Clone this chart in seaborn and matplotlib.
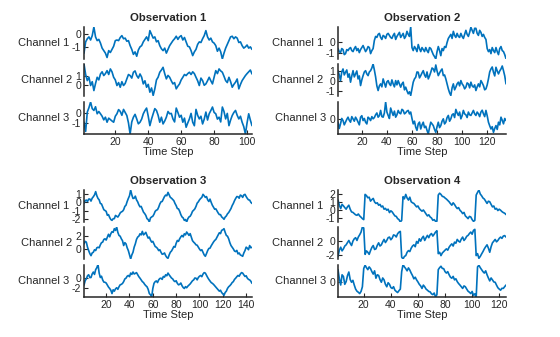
import numpy as np
import pandas as pd
import matplotlib
matplotlib.use("Agg")
import matplotlib.pyplot as plt
import seaborn as sns

# Sensor readings, one value per time step (steps 1, 2, 3, ...)
obs1_ch1 = [-1.5, -0.6, -0.35, -0.2, -0.45, -0.1, 0.59, -0.2, -0.5, -0.4,
            -0.7, -1.1, -1.3, -1.5, -1.85, -1.3, -1.45, -1.2, -0.95, -0.5,
            -0.45, -0.5, -0.25, -0.1, -0.35, -0.3, -0.55, -0.5, -0.9, -1.2,
            -1.6, -1.4, -1.75, -1.25, -1.0, -0.9, -0.6, -0.4, -0.2, -0.5,
            0.3, 0.0, -0.3, -0.2, -0.6, -0.5, -0.9, -1.15, -1.3, -1.1,
            -1.5, -1.2, -0.9, -0.7, -0.5, -0.35, -0.15, -0.4, -0.2, -0.1,
            -0.45, -0.25, -0.6, -0.95, -1.0, -1.3, -1.7, -1.4, -1.2, -0.8,
            -0.6, -0.65, -0.35, -0.1, 0.3, -0.2, -0.45, -0.3, -0.6, -0.7,
            -0.9, -1.35, -1.1, -1.4, -1.97, -1.5, -1.1, -0.8, -0.5, -0.2,
            -0.15, -0.35, -0.2, -0.3, -0.65, -0.6, -0.9, -1.1, -1.0, -0.85,
            -1.1, -1.0, -1.2]
obs1_ch2 = [2.37, 1.2, 0.52, 0.9, -0.03, 0.4, -0.59, 0.2, 0.89, 0.6,
            1.26, 1.5, 1.08, 1.3, 1.63, 1.2, 1.82, 1.5, 0.89, 0.6,
            -0.03, 0.3, -0.22, 0.4, -0.03, 0.2, 0.71, 1.2, 1.08, 0.8,
            1.45, 1.6, 1.08, 0.8, 1.26, 0.9, 0.15, 0.5, -0.22, 0.1,
            -0.77, -0.3, -1.14, -0.4, 0.6, 0.9, 1.45, 1.7, 2.0, 1.3,
            0.71, 1.1, 0.89, 0.5, 0.15, 0.3, -0.4, -0.1, 0.15, 0.6,
            0.89, 1.2, 1.08, 1.3, 1.45, 1.2, 1.5, 1.3, 0.89, 0.5,
            -0.03, 0.8, 0.52, 0.0, 0.15, 0.5, 0.89, 0.5, 0.15, 0.9,
            1.63, 1.3, 1.82, 1.6, 1.45, 1.0, 0.52, 0.3, 0.89, 0.4,
            -0.22, 0.1, 0.34, 0.7, -0.4, 0.1, 0.52, 0.8, 1.08, 1.3,
            1.5, 1.7, 1.26]
obs1_ch3 = [-0.93, -1.9, 0.14, 0.6, 1.2, 0.5, 0.31, 0.7, -0.04, 0.2,
            -0.04, -0.3, -0.68, -0.4, -0.93, -0.5, -0.65, -0.8, -0.93, -0.3,
            -0.04, 0.4, 0.21, -0.2, 0.42, 0.1, -0.22, -1.0, -2.17, -0.9,
            -0.4, -0.1, -0.58, -1.1, -0.93, -0.6, -0.04, 0.3, 0.56, -0.3,
            -1.29, -0.6, -0.04, 0.5, 0.31, -0.2, -0.93, -0.4, -1.11, -0.8,
            -0.4, 0.2, -0.04, 0.0, -0.58, -0.9, 0.56, 0.1, -0.4, -0.2,
            -0.93, -0.5, -1.46, -1.0, -0.58, 0.0, -0.93, -1.3, 0.42, -0.2,
            -0.58, -0.3, -1.11, -0.6, 0.14, -0.7, -0.04, 0.3, 0.67, 0.1,
            -0.04, -0.6, -0.4, -0.9, 0.67, 0.2, -0.58, 0.0, -1.29, -0.7,
            -0.22, 0.1, 0.31, -0.2, -0.58, -0.3, -0.93, -1.4, -2.17, -1.0,
            -0.04, -0.7, -1.29]

obs2_ch1 = [-0.6, -0.9, -1.0, -0.6, -0.7, -1.2, -1.1, -0.7, -0.8, -0.6,
            -0.5, -0.8, -0.9, -0.6, -0.4, -0.8, -0.6, -1.0, -0.7, -0.5,
            -0.3, -0.6, -0.9, -0.7, -0.4, -0.5, -1.1, -0.8, -0.6, 0.2,
            0.6, 0.5, 0.8, 0.9, 0.5, 0.3, 0.7, 0.6, 0.4, 0.8,
            0.9, 0.7, 0.5, 0.4, 0.7, 0.9, 0.3, 0.6, 0.8, 1.0,
            0.5, 0.7, 0.9, 0.4, 0.6, 1.1, 0.8, 0.6, 1.53, -0.5,
            -0.8, -0.4, -0.6, -0.9, -0.2, -0.6, -0.9, -0.5, -0.7, -0.9,
            -0.5, -0.8, -1.0, -0.5, -0.6, -0.9, -1.2, -1.4, -1.63, -0.9,
            -0.4, -0.8, -1.3, -0.6, -0.8, -0.4, -0.5, 0.0, 0.4, 0.6,
            0.8, 0.4, 1.1, 0.7, 0.5, 0.9, 0.6, 0.5, 0.9, 0.6,
            0.4, 0.8, 1.2, 0.8, 0.6, 1.0, 1.5, 1.2, 0.9, 1.4,
            1.4, 0.9, 0.7, 1.2, 1.0, 0.6, 0.8, 0.5, 0.3, -0.6,
            -0.9, -0.7, -1.1, -0.5, -0.8, -1.0, -0.5, -0.9, -1.2, -0.6,
            -0.4, -0.8, -0.9, -1.2, -1.6]
obs2_ch2 = [1.03, 0.6, 0.03, 0.9, 1.2, 0.6, 0.87, 1.1, 0.37, 0.7,
            -0.13, 0.5, 1.03, 0.4, 0.7, 1.0, 0.2, 0.5, -0.47, 0.1,
            0.53, 0.9, 1.03, 0.7, 0.53, 0.9, 1.03, 1.3, 1.7, 1.1,
            0.4, -0.5, -0.97, -0.5, -0.3, -0.6, 0.2, -0.2, -0.63, -0.1,
            0.03, -0.3, -0.47, 0.1, -0.3, -0.6, 0.03, -0.4, 0.03, -0.3,
            -0.63, -0.3, -0.13, -0.9, -0.63, -1.0, -1.3, -1.1, -1.47, -0.8,
            -0.13, 0.2, 0.37, 0.9, 0.87, 0.3, 0.53, 0.8, 1.03, 0.6,
            0.37, 0.9, 0.2, 0.5, 0.87, 1.3, 1.2, 0.9, 1.6, 1.0,
            0.53, 0.8, 1.03, 1.2, 0.53, 0.6, 0.2, -0.3, -0.8, -1.2,
            -1.47, -0.7, -0.3, -0.9, -0.63, -0.3, -0.13, -0.5, 0.03, -0.3,
            -0.47, -0.8, -0.63, -0.2, -0.3, -0.7, -0.13, -0.5, -0.63, -0.4,
            -0.97, -0.6, -0.3, -0.6, 0.03, -0.2, -0.47, -0.9, -0.8, -0.4,
            0.2, 0.9, 1.2, 1.4, 0.87, 0.5, 1.37, 1.0, 0.7, 1.0,
            1.2, 1.5, 1.03, 0.5, -0.3]
obs2_ch3 = [-0.31, -1.0, -0.49, 0.1, -0.13, -0.6, -0.31, 0.0, 0.24, -0.1,
            -0.31, 0.3, 0.06, -0.2, 0.24, 0.0, -0.31, -0.6, 0.24, 0.4,
            -0.13, 0.1, -0.31, -0.5, 0.24, 0.1, -0.13, 0.3, 0.06, 0.2,
            0.5, 0.7, 0.24, 0.4, 0.98, 0.3, 0.24, 0.7, 1.9, 0.8,
            0.43, 0.1, 1.24, 0.8, 0.43, 0.9, 0.24, 0.5, 0.98, 0.7,
            0.61, 1.1, 0.98, 0.6, 0.72, 0.9, 0.98, 0.6, 0.8, 0.1,
            -0.49, -0.2, -0.86, -1.2, -0.49, -0.3, -1.05, -0.6, -0.31, -0.9,
            -0.75, -1.2, -1.6, -0.9, -0.31, -0.5, -0.68, -1.1, -1.42, -0.8,
            -0.31, -0.9, -0.68, -0.2, 0.06, -0.5, -0.31, 0.2, 0.43, -0.2,
            0.06, 0.5, 0.61, 0.2, 1.09, 0.7, 0.43, 0.8, 0.06, 0.4,
            0.98, 0.6, 0.5, 0.2, 0.8, 0.5, 0.43, 0.7, 0.98, 0.6,
            0.43, 0.8, 0.61, 0.3, 0.8, 1.0, 0.61, 0.3, 0.98, 0.4,
            -0.31, -0.7, -1.05, -0.8, -1.42, -1.0, -0.68, -1.1, -0.31, -0.6,
            0.24, -0.1, -0.49, 0.1, -0.13]

obs3_ch1 = [-0.1, 0.2, 0.27, 0.1, 0.39, 0.4, 0.15, 0.5, 0.68, 0.9,
            1.3, 0.8, 0.47, 0.3, -0.14, -0.2, -0.55, -0.9, -1.0, -1.1,
            -1.58, -1.5, -1.85, -2.1, -2.2, -2.0, -1.99, -1.6, -1.7, -1.8,
            -1.58, -1.3, -1.17, -1.1, -0.9, -0.5, -0.35, 0.1, 0.47, 0.8,
            1.5, 0.9, 0.47, 0.5, 0.75, 0.3, 0.06, -0.3, -0.55, -0.5,
            -0.85, -1.2, -1.37, -1.6, -1.99, -2.1, -2.4, -1.9, -1.78, -1.7,
            -1.45, -1.1, -0.96, -0.9, -0.6, -0.2, 0.06, 0.1, 0.4, 0.7,
            0.88, 0.8, 1.21, 0.9, 0.6, 0.5, 0.35, 0.2, -0.14, -0.4,
            -0.76, -0.8, -1.1, -1.5, -1.78, -1.9, -2.2, -2.1, -2.4, -2.0,
            -1.78, -1.7, -1.45, -1.1, -0.96, -0.8, -0.5, -0.1, 0.06, 0.3,
            0.47, 0.6, 0.97, 0.8, 0.6, 0.7, 0.3, 0.1, 0.39, 0.0,
            -0.35, -0.6, -0.84, -0.8, -1.05, -1.3, -1.5, -1.5, -1.78, -1.9,
            -2.07, -1.8, -1.66, -1.4, -1.25, -1.0, -0.76, -0.4, -0.14, 0.2,
            0.47, 0.7, 0.68, 0.5, 0.88, 0.8, 0.6, 0.9, 0.97, 0.7,
            0.47, 0.3, 0.27, 0.0, -0.14]
obs3_ch2 = [0.81, 1.2, 1.08, 0.3, -0.23, -0.7, -1.02, -0.6, -0.49, -0.1,
            -0.23, 0.2, 0.29, 0.2, 0.66, 1.0, 1.08, 1.5, 1.6, 1.4,
            1.86, 2.3, 1.9, 2.4, 2.7, 2.6, 3.17, 2.9, 3.43, 2.6,
            2.12, 2.0, 1.6, 1.3, 0.55, 1.0, 0.81, 0.2, -0.23, -0.9,
            -1.54, -0.9, -0.49, 0.3, 0.81, 1.5, 1.86, 2.0, 2.38, 2.2,
            2.75, 2.2, 2.38, 2.6, 2.12, 1.7, 1.86, 1.4, 1.08, 1.2,
            0.81, 0.4, 0.29, 0.1, -0.23, -0.1, -0.49, -0.8, -0.75, -0.6,
            -1.02, -1.3, -1.43, -0.9, -0.49, -0.3, 0.03, 0.4, 0.29, 0.9,
            1.34, 1.2, 1.6, 1.9, 2.12, 1.9, 2.38, 2.2, 2.65, 2.4,
            2.12, 2.4, 1.86, 1.3, 1.08, 0.9, 0.66, 0.6, 0.29, 0.0,
            -0.23, -0.1, -0.49, -0.9, -1.12, -0.7, -0.23, 0.1, 0.14, 0.5,
            0.81, 1.1, 1.34, 1.5, 1.86, 2.2, 2.54, 2.4, 2.91, 3.0,
            3.17, 2.6, 2.12, 2.0, 1.6, 1.0, 0.55, 0.3, 0.03, -0.3,
            -0.39, -0.2, -0.75, -0.6, -0.91, -1.0, -1.12, -0.6, -0.23, 0.3,
            0.14, -0.1, 0.55, 0.2, 0.29]
obs3_ch3 = [-1.45, -0.5, -0.08, 0.6, 0.83, 0.2, 0.22, 1.0, 1.43, 0.9,
            1.96, 2.4, 3.1, 1.2, 0.22, 0.5, -0.31, -0.8, -0.84, -1.0,
            -1.45, -1.9, -2.21, -2.6, -3.34, -2.5, -2.81, -2.3, -2.05, -2.4,
            -1.83, -1.4, -1.3, -1.1, -0.69, -0.1, 0.07, 0.5, 0.67, 0.4,
            1.2, 0.9, 1.43, 1.0, 1.13, 1.3, 0.83, 0.4, 0.07, -0.3,
            -0.69, -0.9, -1.3, -1.6, -1.83, -2.4, -3.34, -3.6, -4.1, -2.2,
            -1.07, -0.7, -0.54, -0.9, -0.31, 0.0, 0.07, -0.2, 0.45, 0.3,
            0.83, 0.6, 1.2, 0.8, 0.45, 0.1, -0.08, -0.5, -0.69, -0.5,
            -1.07, -1.4, -1.3, -1.0, -1.6, -2.0, -2.21, -1.8, -2.05, -1.7,
            -1.45, -1.2, -0.84, -0.5, -0.31, 0.1, 0.07, -0.3, 0.22, 0.5,
            0.67, 0.4, 0.98, 1.3, 1.2, 0.7, 0.22, -0.2, -0.54, -0.9,
            -1.07, -1.3, -1.6, -1.9, -2.21, -2.5, -2.81, -2.6, -3.12, -3.4,
            -3.72, -3.1, -2.81, -2.2, -1.83, -1.6, -1.3, -0.9, -0.69, -0.2,
            0.07, 0.4, 0.67, 0.5, 0.98, 1.3, 1.2, 0.8, 0.45, 0.6,
            0.07, -0.2, -0.31, -0.6, -1.07]

obs4_ch1 = [1.24, 0.6, 0.18, 0.7, 0.52, 0.3, 0.1, 0.4, 0.6, 0.1,
            -0.24, -0.3, -0.45, -0.6, -0.66, -0.5, -0.74, -0.9, -1.08, -1.2,
            1.95, 1.8, 1.53, 1.6, 1.11, 1.3, 1.45, 1.0, 0.82, 0.9,
            0.6, 0.7, 0.39, 0.5, 0.1, 0.2, -0.03, 0.1, -0.32, -0.1,
            -0.24, -0.5, -0.74, -0.8, -1.08, -1.2, -1.5, -1.3, 1.66, 1.4,
            1.95, 1.5, 1.24, 1.6, 1.03, 0.9, 0.82, 0.6, 0.39, 0.5,
            0.18, 0.0, -0.15, 0.0, -0.24, -0.5, -0.74, -0.6, -0.87, -1.0,
            -1.29, -1.2, -1.42, -1.4, 1.87, 2.1, 1.95, 1.7, 1.66, 1.5,
            1.37, 1.2, 1.03, 0.8, 0.6, 0.9, 0.69, 0.4, 0.18, 0.3,
            -0.03, -0.2, -0.45, -0.3, -0.74, -0.9, -1.08, -0.8, -0.87, -1.2,
            -1.42, -1.3, 1.87, 2.2, 2.5, 2.0, 1.78, 1.5, 1.37, 1.1,
            0.82, 1.1, 1.03, 0.7, 0.39, 0.5, 0.1, 0.2, -0.07, 0.1,
            -0.03, -0.2, -0.32, -0.4, -0.57]
obs4_ch2 = [-2.2, -1.3, -0.87, -1.4, -1.11, -0.7, -0.53, -0.2, 0.1, -0.3,
            -0.63, 0.0, 0.34, 0.5, 0.1, 0.6, 0.92, 1.3, 2.04, 1.9,
            -1.9, -1.4, -1.6, -1.9, -1.36, -0.9, -0.63, -1.2, -1.11, -0.6,
            -0.24, -0.7, -0.53, -0.1, 0.25, -0.2, 0.1, 0.5, 0.59, 0.2,
            0.44, 0.9, 0.83, 0.6, 1.07, 1.3, 1.41, -2.3, -2.57, -2.2,
            -2.08, -1.6, -1.36, -1.5, -1.02, -0.7, -0.53, -0.8, -0.05, -0.3,
            0.34, 0.0, 0.44, 0.7, 0.1, 0.5, 0.83, 0.5, 0.92, 1.1,
            0.73, 1.0, 1.31, 1.5, -1.8, -1.6, -2.08, -1.7, -1.5, -1.3,
            -1.11, -1.3, -0.87, -0.6, -0.39, -0.7, -0.14, -0.3, 0.25, 0.0,
            -0.14, 0.3, 0.59, 0.1, 0.34, 0.7, 0.83, 1.1, 1.31, 1.0,
            1.56, 1.7, -2.08, -1.8, -2.47, -2.2, -1.84, -1.5, -1.11, -0.8,
            -0.53, -1.0, -1.6, -0.8, -0.24, 0.0, 0.25, -0.1, 0.1, 0.4,
            0.59, 0.4, 0.73, 0.8, 0.59]
obs4_ch3 = [1.55, 0.4, -0.39, 0.9, 0.69, -0.3, 0.04, 0.8, 1.25, 0.3,
            -0.04, 0.2, -0.39, -0.9, -1.17, -1.3, -1.47, -1.2, -0.61, 1.7,
            2.11, 1.8, 1.55, 1.9, 1.68, 1.3, 0.99, 1.4, 0.47, 0.9,
            0.82, 0.3, -0.04, 0.5, 0.26, -0.3, -0.61, -0.1, -0.3, -0.7,
            -0.82, -0.6, -1.04, -1.2, -1.34, -1.1, -0.91, 1.3, 2.2, 1.9,
            1.68, 1.4, 1.77, 1.5, 1.12, 0.8, 0.39, 0.6, 0.26, 0.0,
            -0.3, -0.5, -0.82, -0.4, -0.61, -0.9, -1.04, -1.2, -1.25, -1.5,
            -1.6, -1.4, -1.9, -1.6, 1.55, 1.8, 1.98, 1.7, 1.68, 1.3,
            1.12, 1.3, 0.91, 0.6, 0.47, 0.7, 0.26, 0.4, 0.04, -0.2,
            -0.39, -0.6, -0.82, -0.5, -0.61, -0.9, -1.17, -1.3, -1.47, -1.2,
            -1.68, -1.5, -1.9, 1.9, 2.11, 1.8, 1.55, 1.3, 1.12, 1.4,
            0.91, 0.5, 0.13, 0.5, 0.26, 0.0, -0.04, -0.4, -0.73, -0.9,
            -1.04, -0.8, -0.82, -0.6, -0.39]

titles = ["Observation 1", "Observation 2", "Observation 3", "Observation 4"]
channel_names = ["Channel 1", "Channel 2", "Channel 3"]
obs1_yticks = [[-1, 0], [0, 1], [-1, 0]]
obs2_yticks = [[-1, 0], [-1, 0, 1], [0]]
obs3_yticks = [[-2, -1, 0, 1], [0, 2], [-2, 0]]
obs4_yticks = [[-1, 0, 1, 2], [-2, 0], [0]]
obs1_xticks = [20, 40, 60, 80, 100]
obs2_xticks = [20, 40, 60, 80, 100, 120]
obs3_xticks = [20, 40, 60, 80, 100, 120, 140]
obs4_xticks = [20, 40, 60, 80, 100, 120]

panels = [
    ([obs1_ch1, obs1_ch2, obs1_ch3], obs1_yticks, obs1_xticks),
    ([obs2_ch1, obs2_ch2, obs2_ch3], obs2_yticks, obs2_xticks),
    ([obs3_ch1, obs3_ch2, obs3_ch3], obs3_yticks, obs3_xticks),
    ([obs4_ch1, obs4_ch2, obs4_ch3], obs4_yticks, obs4_xticks),
]

sns.set_theme(style="white")
plt.rcParams["font.family"] = ["Liberation Sans", "DejaVu Sans"]
plt.rcParams["axes.unicode_minus"] = False

LINE = "#0072BD"
INK = "#262626"
W, H = 560, 337

fig = plt.figure(figsize=(W / 100, H / 100), dpi=100)

# stacked layout (pixels): column left edges and per-row channel bands
col_left = [84, 338]
col_width = 168
bands = [[(27, 59), (64, 95.5), (102, 134)],
         [(190, 222), (227, 259), (264.5, 297)]]

for k, (channels, yticks, xticks) in enumerate(panels):
    r, c = divmod(k, 2)
    for j, vals in enumerate(channels):
        top, bot = bands[r][j]
        ax = fig.add_axes([col_left[c] / W, 1 - bot / H,
                           col_width / W, (bot - top) / H])
        steps = 1 + np.arange(len(vals))
        df = pd.DataFrame({"Time Step": steps, "Value": vals})
        sns.lineplot(data=df, x="Time Step", y="Value", ax=ax,
                     color=LINE, linewidth=1.2)
        ax.set_xlim(steps[0], steps[-1])
        ax.set_ylim(min(vals), max(vals))
        ax.set_yticks(yticks[j])
        ax.set_ylabel(channel_names[j], rotation=0, ha="right", va="center",
                      fontsize=8, color=INK, labelpad=2)
        for side in ["top", "right"]:
            ax.spines[side].set_visible(False)
        ax.spines["left"].set_color(INK)
        ax.spines["left"].set_linewidth(1.1)
        ax.tick_params(axis="y", direction="in", length=3, width=0.8,
                       pad=2, labelsize=7.5, colors=INK, left=True)
        if j < 2:
            ax.spines["bottom"].set_visible(False)
            ax.tick_params(axis="x", bottom=False, labelbottom=False)
            ax.set_xlabel("")
        else:
            ax.spines["bottom"].set_color(INK)
            ax.spines["bottom"].set_linewidth(1.1)
            ax.set_xticks(xticks)
            ax.tick_params(axis="x", direction="in", length=3, width=0.8,
                           pad=2, labelsize=7.5, colors=INK, bottom=True)
            ax.set_xlabel("Time Step", fontsize=8, color=INK, labelpad=0)
        if j == 0:
            ax.set_title(titles[k], fontsize=8.2, fontweight="bold",
                         color=INK, pad=4)

fig.savefig("out.png", dpi=100)
